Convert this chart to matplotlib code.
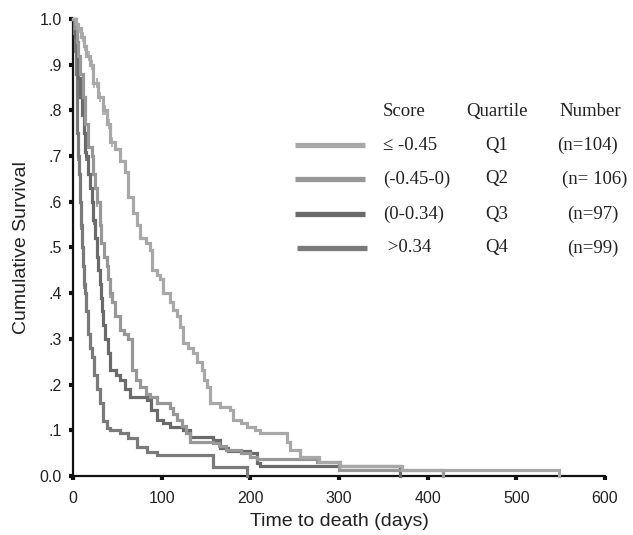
import numpy as np
import matplotlib
matplotlib.use("Agg")
import matplotlib.pyplot as plt

# Kaplan-Meier step knots: (days, cumulative survival) per score quartile
q1_t = [0, 3, 6, 9, 12, 15, 19, 23, 28, 34, 38, 42, 47, 53, 59, 62, 68, 72, 76, 82,
        87, 89, 95, 98, 102, 109, 113, 117, 121, 124, 130, 135, 140, 145, 148, 151,
        154, 166, 177, 181, 190, 196, 205, 211, 241, 245, 256, 278, 301, 371, 548]
q1_s = [1.0, 0.99, 0.98, 0.96, 0.94, 0.92, 0.90, 0.86, 0.83, 0.80, 0.77, 0.73, 0.715,
        0.69, 0.665, 0.61, 0.575, 0.55, 0.52, 0.51, 0.495, 0.45, 0.44, 0.43, 0.40, 0.38,
        0.363, 0.35, 0.326, 0.29, 0.28, 0.27, 0.25, 0.232, 0.21, 0.195, 0.16, 0.151,
        0.144, 0.122, 0.115, 0.107, 0.10, 0.094, 0.075, 0.057, 0.042, 0.031, 0.022,
        0.013, 0.0]

q2_t = [0, 2, 4, 6, 8, 11, 14, 17, 21, 23, 25, 27, 30, 32, 35, 38, 40, 42, 44, 47, 53,
        57, 62, 66, 71, 76, 82, 87, 95, 109, 113, 117, 123, 128, 132, 158, 165, 173,
        190, 200, 207, 275, 300, 417]
q2_s = [1.0, 0.98, 0.95, 0.92, 0.88, 0.83, 0.77, 0.72, 0.70, 0.66, 0.63, 0.60, 0.55,
        0.51, 0.48, 0.46, 0.43, 0.40, 0.38, 0.35, 0.32, 0.31, 0.30, 0.232, 0.21, 0.195,
        0.18, 0.173, 0.16, 0.149, 0.135, 0.122, 0.11, 0.094, 0.074, 0.072, 0.065, 0.057,
        0.05, 0.042, 0.038, 0.031, 0.013, 0.0]

q3_t = [0, 2, 4, 6, 8, 10, 12, 14, 15, 17, 19, 21, 23, 25, 27, 28, 30, 32, 33, 34, 36,
        39, 42, 48, 53, 59, 64, 83, 88, 95, 102, 109, 124, 132, 158, 166, 175, 200, 207,
        211, 369]
q3_s = [1.0, 0.96, 0.92, 0.87, 0.83, 0.79, 0.75, 0.71, 0.70, 0.66, 0.63, 0.60, 0.56,
        0.52, 0.48, 0.45, 0.42, 0.39, 0.36, 0.33, 0.30, 0.27, 0.232, 0.22, 0.21, 0.19,
        0.173, 0.166, 0.145, 0.122, 0.115, 0.107, 0.10, 0.085, 0.079, 0.061, 0.055, 0.05,
        0.028, 0.022, 0.0]

q4_t = [0, 1, 2, 3, 4, 5, 6, 7, 8, 9, 10, 11, 12, 13, 15, 17, 19, 21, 24, 27, 30, 34,
        38, 42, 53, 62, 72, 83, 95, 158, 196]
q4_s = [1.0, 0.97, 0.93, 0.88, 0.82, 0.75, 0.70, 0.66, 0.60, 0.55, 0.50, 0.46, 0.42,
        0.40, 0.36, 0.31, 0.28, 0.26, 0.22, 0.19, 0.16, 0.12, 0.105, 0.10, 0.094, 0.083,
        0.064, 0.053, 0.046, 0.02, 0.0]

# Censored observations (days)
q1_cens = [4, 7, 11, 14, 18, 21, 24, 27, 31, 34, 36, 41, 44]
q2_cens = [27, 42]
q3_cens = [15, 24]
q4_cens = [6, 9, 12]

score_labels = ["\u2264 -0.45", "(-0.45-0)", "(0-0.34)", " >0.34"]
quartile_labels = ["Q1", "Q2", "Q3", "Q4"]
number_labels = ["(n=104)", "(n= 106)", "(n=97)", "(n=99)"]
colors = ["#a8a8a8", "#979797", "#6a6a6a", "#7a7a7a"]

x_ticks = [0, 100, 200, 300, 400, 500, 600]
y_ticks = [0.0, 0.1, 0.2, 0.3, 0.4, 0.5, 0.6, 0.7, 0.8, 0.9, 1.0]
y_ticklabels = ["0.0", ".1", ".2", ".3", ".4", ".5", ".6", ".7", ".8", ".9", "1.0"]

sans = ["Liberation Sans", "DejaVu Sans"]
serif = ["Liberation Serif", "DejaVu Serif"]

fig = plt.figure(figsize=(6.33, 5.35), dpi=100)
ax = fig.add_axes([0.1153, 0.1103, 0.8405, 0.8542])

groups = [(q1_t, q1_s, q1_cens), (q2_t, q2_s, q2_cens),
          (q3_t, q3_s, q3_cens), (q4_t, q4_s, q4_cens)]

# draw darker groups last so they sit on top
for (t, s, cens), col in reversed(list(zip(groups, colors))):
    t = np.asarray(t, float)
    s = np.asarray(s, float)
    ax.step(t, s, where="post", color=col, lw=2.3, solid_joinstyle="miter",
            clip_on=False, zorder=3)
    idx = np.searchsorted(t, cens, side="right") - 1
    ax.plot(cens, s[idx], linestyle="none", marker="|", markersize=7,
            markeredgewidth=1.2, color=col, clip_on=False, zorder=4)

ax.set_xlim(0, 600)
ax.set_ylim(0, 1.0)
ax.set_xticks(x_ticks)
ax.set_yticks(y_ticks)
ax.set_yticklabels(y_ticklabels)
for side in ("top", "right"):
    ax.spines[side].set_visible(False)
for side in ("left", "bottom"):
    ax.spines[side].set_linewidth(1.6)
    ax.spines[side].set_color("#111111")
ax.tick_params(axis="both", direction="out", length=3, width=3, color="#111111",
               labelsize=11.5, labelcolor="#222222")
ax.tick_params(axis="y", pad=5)
ax.tick_params(axis="x", pad=8)
for lab in ax.get_xticklabels() + ax.get_yticklabels():
    lab.set_family(sans)

ax.set_xlabel("Time to death (days)", fontsize=14, family=sans, color="#222222",
              labelpad=5)
ax.set_ylabel("Cumulative Survival", fontsize=14, family=sans, color="#222222",
              labelpad=7)

# Table-style key
row_y = [0.724, 0.650, 0.573, 0.499]
header_y = 0.797
tx = ax.transAxes
ax.text(0.583, header_y, "Score", transform=tx, family=serif, fontsize=13.5,
        ha="left", va="center", color="#222222")
ax.text(0.797, header_y, "Quartile", transform=tx, family=serif, fontsize=13.5,
        ha="center", va="center", color="#222222")
ax.text(0.972, header_y, "Number", transform=tx, family=serif, fontsize=13.5,
        ha="center", va="center", color="#222222")
line_x = [(0.417, 0.549), (0.417, 0.549), (0.417, 0.549), (0.421, 0.553)]
n_x = [0.968, 0.981, 0.977, 0.977]
for i in range(4):
    ax.plot(line_x[i], [row_y[i], row_y[i]], transform=tx, color=colors[i], lw=3.8,
            solid_capstyle="butt", clip_on=False)
    ax.text(0.583, row_y[i], score_labels[i], transform=tx, family=serif,
            fontsize=13.5, ha="left", va="center", color="#222222")
    ax.text(0.797, row_y[i], quartile_labels[i], transform=tx, family=serif,
            fontsize=13.5, ha="center", va="center", color="#222222")
    ax.text(n_x[i], row_y[i], number_labels[i], transform=tx, family=serif,
            fontsize=13.5, ha="center", va="center", color="#222222")

fig.savefig("out.png", dpi=100)
